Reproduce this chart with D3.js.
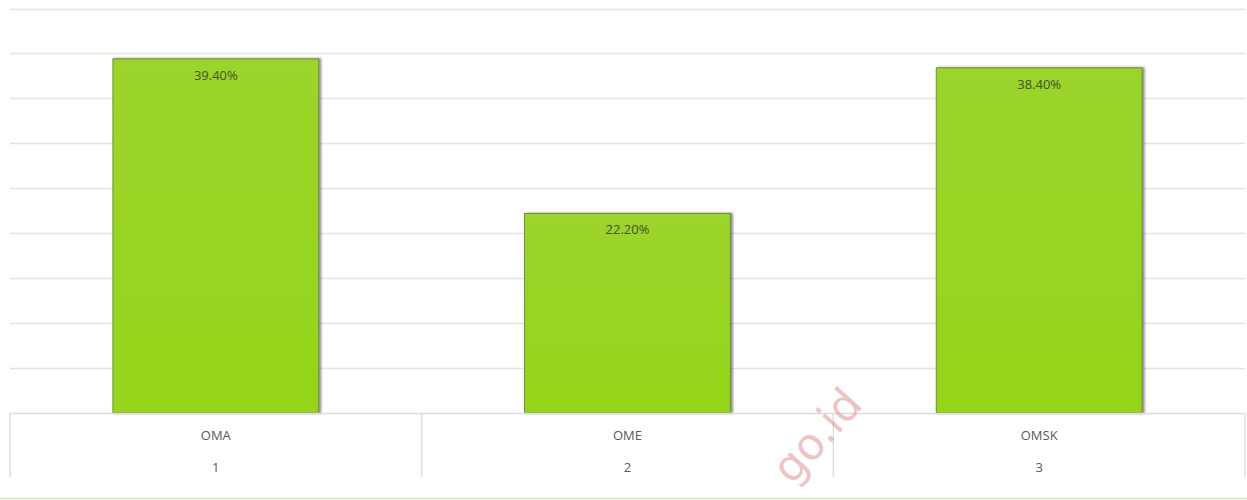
<!DOCTYPE html>
<html>
<head>
<meta charset="utf-8">
<script src="https://cdn.jsdelivr.net/npm/d3@7"></script>
<style>
  body { margin: 0; background: #fff; }
  svg { display: block; font-family: "Open Sans", "Noto Sans", sans-serif; }
</style>
</head>
<body>
<div id="chart"></div>
<script>
const categories = ["OMA", "OME", "OMSK"];
const rowNumbers = ["1", "2", "3"];
const values = [39.4, 22.2, 38.4];
const yTicks = [0, 5, 10, 15, 20, 25, 30, 35, 40, 45];

const width = 1247, height = 500;
const left = 10, right = 1245, baseY = 413, topY = 8.5;

const svg = d3.select("#chart").append("svg")
  .attr("width", width)
  .attr("height", height);

const defs = svg.append("defs");
const grad = defs.append("linearGradient")
  .attr("id", "barFill")
  .attr("x1", 0).attr("y1", 0).attr("x2", 0).attr("y2", 1);
grad.append("stop").attr("offset", "0%").attr("stop-color", "#9bd42a");
grad.append("stop").attr("offset", "100%").attr("stop-color", "#96d41c");

const shadow = defs.append("filter").attr("id", "shadow")
  .attr("x", "-5%").attr("y", "-5%").attr("width", "115%").attr("height", "115%");
shadow.append("feDropShadow")
  .attr("dx", 2).attr("dy", 0).attr("stdDeviation", 1.2)
  .attr("flood-color", "#333").attr("flood-opacity", 0.55);

const x = d3.scaleBand()
  .domain(categories)
  .range([left, right])
  .paddingInner(0)
  .paddingOuter(0);

const y = d3.scaleLinear()
  .domain([0, 45])
  .range([baseY, topY]);

// gridlines
svg.append("g")
  .selectAll("line")
  .data(yTicks.slice(1))
  .join("line")
  .attr("x1", left)
  .attr("x2", right)
  .attr("y1", (d) => Math.round(y(d)) + 0.5)
  .attr("y2", (d) => Math.round(y(d)) + 0.5)
  .attr("stroke", "#e3e3e3")
  .attr("stroke-width", 1.5);

// bars
const barW = x.bandwidth() * 0.5;
svg.append("g")
  .selectAll("rect")
  .data(values)
  .join("rect")
  .attr("x", (d, i) => x(categories[i]) + (x.bandwidth() - barW) / 2)
  .attr("y", (d) => y(d))
  .attr("width", barW)
  .attr("height", (d) => baseY - y(d))
  .attr("fill", "url(#barFill)")
  .attr("stroke", "#6f8f3a")
  .attr("stroke-width", 1)
  .attr("filter", "url(#shadow)");

// value labels
svg.append("g")
  .selectAll("text")
  .data(values)
  .join("text")
  .attr("x", (d, i) => x(categories[i]) + x.bandwidth() / 2)
  .attr("y", (d) => y(d) + 21)
  .attr("text-anchor", "middle")
  .attr("font-size", 13)
  .attr("fill", "#44502a")
  .text((d) => d.toFixed(2) + "%");

// category table
const table = svg.append("g");
table.append("line")
  .attr("x1", left).attr("x2", right)
  .attr("y1", baseY + 0.5).attr("y2", baseY + 0.5)
  .attr("stroke", "#dcdcdc").attr("stroke-width", 1.5);

const boundaries = categories.map((c) => x(c)).concat([right]);
table.selectAll("line.sep")
  .data(boundaries)
  .join("line")
  .attr("class", "sep")
  .attr("x1", (d) => d).attr("x2", (d) => d)
  .attr("y1", baseY).attr("y2", 477)
  .attr("stroke", "#dedede").attr("stroke-width", 1.5);

table.selectAll("text.cat")
  .data(categories)
  .join("text")
  .attr("class", "cat")
  .attr("x", (d) => x(d) + x.bandwidth() / 2)
  .attr("y", 440)
  .attr("text-anchor", "middle")
  .attr("font-size", 13)
  .attr("fill", "#595959")
  .text((d) => d);

table.selectAll("text.num")
  .data(rowNumbers)
  .join("text")
  .attr("class", "num")
  .attr("x", (d, i) => x(categories[i]) + x.bandwidth() / 2)
  .attr("y", 472)
  .attr("text-anchor", "middle")
  .attr("font-size", 13)
  .attr("fill", "#595959")
  .text((d) => d);

// bottom rule
svg.append("line")
  .attr("x1", 0).attr("x2", width)
  .attr("y1", 498.5).attr("y2", 498.5)
  .attr("stroke", "#d6e6b8").attr("stroke-width", 1.5);

// watermark
svg.append("text")
  .attr("transform", "translate(792,486) rotate(-48)")
  .attr("font-size", 44)
  .attr("font-family", "DejaVu Sans, sans-serif")
  .attr("fill", "#e29a9a")
  .attr("fill-opacity", 0.6)
  .text("go.id");
</script>
</body>
</html>
